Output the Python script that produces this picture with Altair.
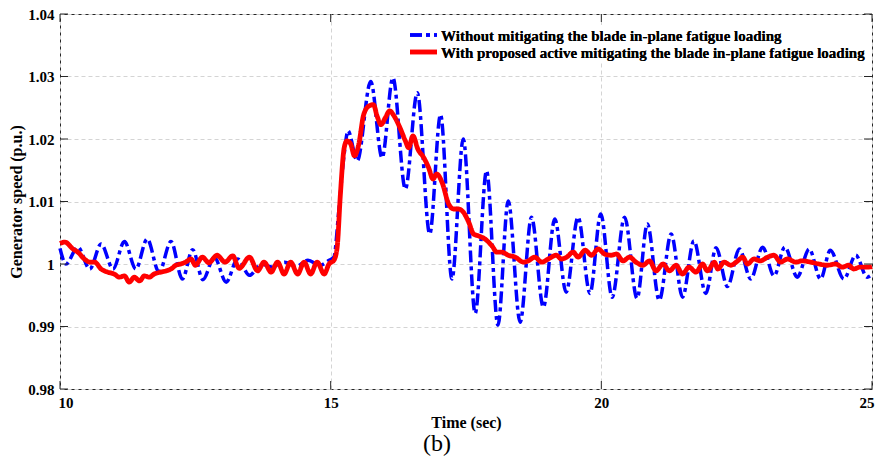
import altair as alt
import pandas as pd

blue_t = [10.00, 10.11, 10.33, 10.55, 10.76, 10.98, 11.19, 11.40, 11.61, 11.83,
          12.05, 12.26, 12.45, 12.64, 12.85, 13.07, 13.28, 13.50, 13.72, 13.93,
          14.15, 14.36, 14.58, 14.80, 14.97, 15.06, 15.15, 15.25, 15.32, 15.49,
          15.74, 15.95, 16.15, 16.38, 16.60, 16.83, 17.03, 17.24, 17.45, 17.67,
          17.88, 18.09, 18.28, 18.50, 18.71, 18.93, 19.14, 19.35, 19.57, 19.79,
          19.99, 20.20, 20.43, 20.66, 20.85, 21.07, 21.29, 21.50, 21.71, 21.93,
          22.12, 22.33, 22.55, 22.76, 22.98, 23.19, 23.39, 23.62, 23.84, 24.05,
          24.23, 24.48, 24.70, 24.91, 25.00]
blue_v = [1.0025, 1.0000, 1.0027, 0.9992, 1.0032, 0.9992, 1.0036, 0.9992, 1.0040, 0.9987,
          1.0036, 0.9976, 1.0023, 0.9975, 1.0011, 0.9971, 1.0008, 0.9982, 1.0000, 0.9995,
          1.0003, 0.9996, 1.0006, 0.9998, 1.0006, 1.0011, 1.0085, 1.0176, 1.0213, 1.0165,
          1.0292, 1.0170, 1.0298, 1.0120, 1.0274, 1.0048, 1.0239, 0.9976, 1.0200, 0.9921,
          1.0149, 0.9902, 1.0101, 0.9907, 1.0075, 0.9931, 1.0072, 0.9955, 1.0075, 0.9953,
          1.0080, 0.9947, 1.0075, 0.9945, 1.0064, 0.9942, 1.0048, 0.9947, 1.0037, 0.9953,
          1.0026, 0.9964, 1.0024, 0.9976, 1.0027, 0.9981, 1.0027, 0.9979, 1.0024, 0.9976,
          1.0022, 0.9976, 1.0014, 0.9979, 0.9983]

red_t = [10.00, 10.09, 10.24, 10.33, 10.45, 10.55, 10.64, 10.76, 10.88, 11.00,
         11.10, 11.19, 11.28, 11.37, 11.47, 11.56, 11.65, 11.74, 11.86, 11.96,
         12.05, 12.14, 12.23, 12.32, 12.42, 12.50, 12.63, 12.75, 12.90, 13.05,
         13.19, 13.31, 13.50, 13.65, 13.77, 13.90, 14.02, 14.14, 14.26, 14.39,
         14.51, 14.63, 14.75, 14.88, 14.97, 15.06, 15.12, 15.18, 15.25, 15.30,
         15.37, 15.44, 15.52, 15.61, 15.71, 15.79, 15.86, 15.93, 16.01, 16.09,
         16.17, 16.28, 16.38, 16.44, 16.52, 16.61, 16.72, 16.81, 16.89, 16.96,
         17.06, 17.18, 17.27, 17.36, 17.45, 17.55, 17.64, 17.73, 17.85, 17.98,
         18.07, 18.16, 18.28, 18.41, 18.56, 18.65, 18.77, 18.90, 19.02, 19.17,
         19.26, 19.36, 19.48, 19.57, 19.70, 19.82, 19.94, 20.06, 20.18, 20.28,
         20.40, 20.52, 20.64, 20.77, 20.89, 21.01, 21.14, 21.26, 21.38, 21.50,
         21.62, 21.75, 21.87, 21.96, 22.09, 22.15, 22.27, 22.39, 22.52, 22.61,
         22.70, 22.82, 22.94, 23.07, 23.19, 23.31, 23.44, 23.59, 23.71, 23.87,
         24.02, 24.17, 24.33, 24.45, 24.57, 24.66, 24.78, 24.93, 25.00]
red_v = [1.0033, 1.0035, 1.0024, 1.0019, 1.0008, 1.0003, 1.0003, 0.9992, 0.9987, 0.9984,
         0.9979, 0.9981, 0.9971, 0.9979, 0.9973, 0.9981, 0.9979, 0.9984, 0.9987, 0.9989,
         0.9992, 0.9998, 1.0000, 1.0003, 1.0008, 0.9998, 1.0011, 1.0002, 1.0014, 1.0003,
         1.0013, 0.9993, 1.0011, 0.9989, 1.0003, 0.9987, 1.0003, 0.9984, 1.0003, 0.9984,
         1.0003, 0.9984, 1.0003, 0.9984, 1.0000, 1.0006, 1.0027, 1.0112, 1.0186, 1.0197,
         1.0192, 1.0173, 1.0192, 1.0239, 1.0253, 1.0255, 1.0236, 1.0223, 1.0234, 1.0245,
         1.0237, 1.0218, 1.0197, 1.0186, 1.0205, 1.0184, 1.0170, 1.0154, 1.0136, 1.0144,
         1.0130, 1.0096, 1.0088, 1.0088, 1.0083, 1.0067, 1.0048, 1.0045, 1.0040, 1.0029,
         1.0019, 1.0019, 1.0014, 1.0011, 1.0003, 1.0005, 1.0011, 1.0003, 1.0008, 1.0014,
         1.0008, 1.0011, 1.0019, 1.0011, 1.0022, 1.0014, 1.0024, 1.0016, 1.0014, 1.0016,
         1.0005, 1.0011, 1.0003, 0.9998, 1.0005, 0.9989, 1.0000, 0.9989, 0.9998, 0.9984,
         0.9995, 0.9987, 1.0000, 0.9989, 1.0003, 0.9992, 1.0003, 0.9998, 1.0005, 1.0011,
         1.0000, 1.0008, 1.0005, 1.0011, 1.0014, 1.0003, 1.0008, 1.0003, 1.0005, 1.0003,
         1.0000, 0.9998, 1.0000, 0.9995, 0.9998, 0.9992, 0.9995, 0.9995, 0.9996]

x_ticks = [10, 15, 20, 25]
y_ticks = [0.98, 0.99, 1.00, 1.01, 1.02, 1.03, 1.04]
series_names = ["Without mitigating the blade in-plane fatigue loading",
                "With proposed active mitigating the blade in-plane fatigue loading"]
series_colors = ["#0000ff", "#ff0000"]
series_dashes = [[12, 4, 4, 4], [1, 0]]

df = pd.DataFrame({
    "t": blue_t + red_t,
    "v": blue_v + red_v,
    "series": [series_names[0]] * len(blue_t) + [series_names[1]] * len(red_t),
})

W, H = 812, 375
FONT = "Liberation Serif"
TICK = 8

xs = alt.Scale(domain=[10, 25], nice=False, zero=False)
ys = alt.Scale(domain=[0.98, 1.04], nice=False, zero=False)

color = alt.Color("series:N", scale=alt.Scale(domain=series_names, range=series_colors),
                  legend=None)
dash = alt.StrokeDash("series:N", scale=alt.Scale(domain=series_names, range=series_dashes),
                      legend=None)

xaxis = alt.Axis(title="Time (sec)", values=x_ticks, format="~g", labelPadding=6,
                 titlePadding=4, labelFlush=True, labelFlushOffset=2)
yaxis = alt.Axis(title="Generator speed (p.u.)", values=y_ticks, format="~g", labelPadding=6,
                 titlePadding=3, labelFlush=False)

base = alt.Chart(df).encode(
    x=alt.X("t:Q", scale=xs, axis=xaxis),
    y=alt.Y("v:Q", scale=ys, axis=yaxis),
    color=color,
    strokeDash=dash,
)
blue = base.transform_filter(alt.datum.series == series_names[0]).mark_line(
    strokeWidth=3.5, interpolate="monotone")
red = base.transform_filter(alt.datum.series == series_names[1]).mark_line(
    strokeWidth=4.8, interpolate="monotone")

xt = pd.DataFrame({"t": x_ticks})
yt = pd.DataFrame({"v": y_ticks})
tick_color = "#262626"
bottom_ticks = alt.Chart(xt).mark_rule(color=tick_color).encode(
    x=alt.X("t:Q", scale=xs, axis=xaxis), y=alt.value(H), y2=alt.value(H - TICK))
top_ticks = alt.Chart(xt).mark_rule(color=tick_color).encode(
    x=alt.X("t:Q", scale=xs, axis=xaxis), y=alt.value(0), y2=alt.value(TICK))
left_ticks = alt.Chart(yt).mark_rule(color=tick_color).encode(
    y=alt.Y("v:Q", scale=ys, axis=yaxis), x=alt.value(0), x2=alt.value(TICK))
right_ticks = alt.Chart(yt).mark_rule(color=tick_color).encode(
    y=alt.Y("v:Q", scale=ys, axis=yaxis), x=alt.value(W), x2=alt.value(W - TICK))

# legend box (drawn by hand, inside the plot's upper right)
leg_df = pd.DataFrame({"series": series_names})
LX0, LX1, LT = 350, 377, 381
rows_y = [21, 38]
legend_bg = alt.Chart(leg_df).mark_rect(color="white").encode(
    x=alt.value(344), x2=alt.value(775), y=alt.value(11), y2=alt.value(48))
legend_layers = [legend_bg]
for i, name in enumerate(series_names):
    legend_layers.append(
        alt.Chart(leg_df).mark_rule(color=series_colors[i], strokeWidth=3.5 if i == 0 else 4.5,
                                     strokeDash=series_dashes[i]).encode(
            x=alt.value(LX0), x2=alt.value(LX1), y=alt.value(rows_y[i])))
    legend_layers.append(
        alt.Chart(leg_df).mark_text(text=name, font=FONT, fontSize=15, fontWeight="bold",
                                     color="black", align="left", baseline="middle").encode(
            x=alt.value(LT), y=alt.value(rows_y[i] + 1)))

chart = alt.layer(blue, red, bottom_ticks, top_ticks, left_ticks, right_ticks,
                  *legend_layers).properties(
    width=W, height=H,
    title=alt.TitleParams("(b)", orient="bottom", fontSize=24, fontWeight="normal", font=FONT,
                          color="black", offset=2, dx=-29),
    autosize=alt.AutoSizeParams(type="none"),
    padding={"left": 52, "top": 6, "right": 3, "bottom": 70},
).configure_view(
    stroke=tick_color, strokeWidth=1
).configure_axis(
    domain=False, ticks=False, grid=True, gridDash=[4, 3], gridColor="#d4d4d4", gridWidth=1,
    labelFont=FONT, labelFontSize=15, labelFontWeight="bold", labelColor="black",
    titleFont=FONT, titleFontSize=16, titleFontWeight="bold", titleColor="black",
)

chart.save("out.html", embed_options={"renderer": "svg", "actions": False})
